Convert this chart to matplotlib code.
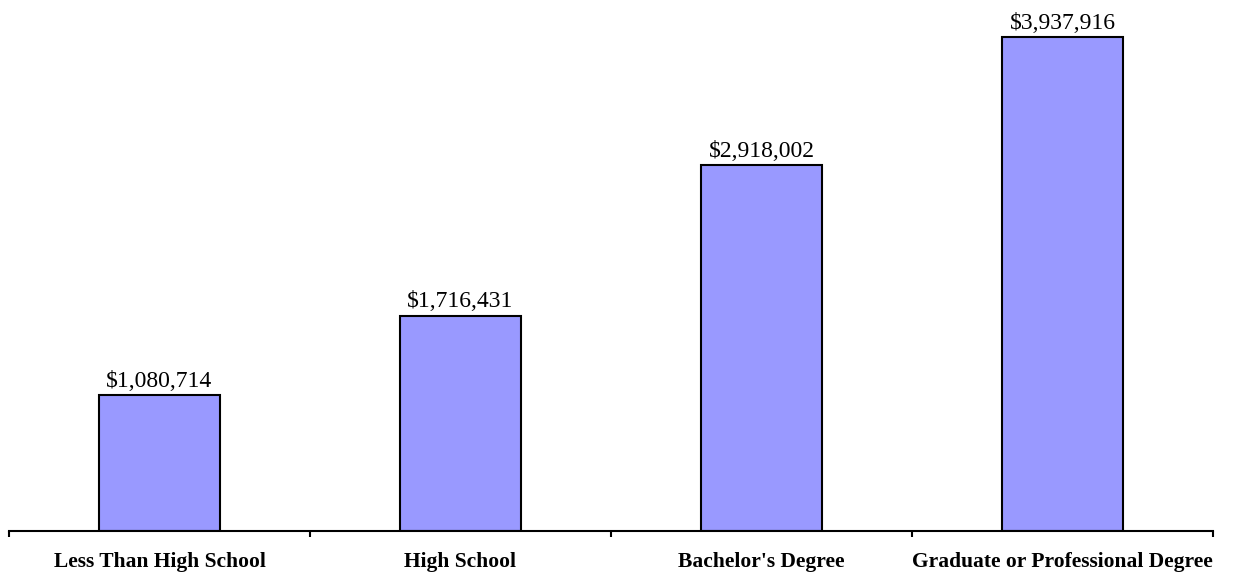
import numpy as np
import matplotlib.pyplot as plt

categories = ["Less Than High School", "High School", "Bachelor's Degree",
              "Graduate or Professional Degree"]
earnings = [1080714, 1716431, 2918002, 3937916]

plt.rcParams['font.family'] = ['Liberation Serif', 'DejaVu Serif']

fig = plt.figure(figsize=(12.43, 5.77), dpi=100)
ax = fig.add_axes([9 / 1243, 46 / 577, 1204 / 1243, 531 / 577])

x = np.arange(len(categories)) + 0.5
ax.bar(x, earnings, width=0.4, color="#9999ff", edgecolor="black", linewidth=1.5)

for xi, v in zip(x, earnings):
    ax.annotate(f"${v:,}", (xi, v), xytext=(0, 6), textcoords="offset points",
                ha="center", va="baseline", fontsize=17)

ax.set_xlim(0, len(categories))
ax.set_ylim(0, 4232000)

ax.set_xticks(np.arange(len(categories) + 1))
ax.set_xticklabels([])
ax.set_xticks(x, minor=True)
ax.set_xticklabels(categories, minor=True, fontsize=15.5, fontweight="bold")
ax.tick_params(axis="x", which="major", direction="out", length=4, width=1.5)
ax.tick_params(axis="x", which="minor", length=0, pad=15)
ax.set_yticks([])

for side in ["top", "right", "left"]:
    ax.spines[side].set_visible(False)
ax.spines["bottom"].set_linewidth(1.5)

plt.savefig("out.png", dpi=100)
